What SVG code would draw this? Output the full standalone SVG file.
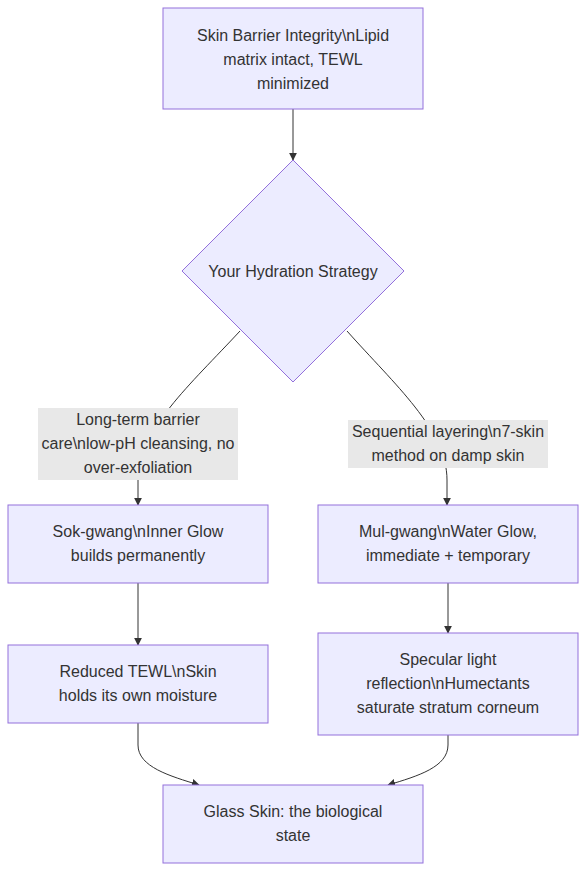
<svg xmlns="http://www.w3.org/2000/svg" width="586" height="871" viewBox="0 0 586 871">
<style>
.node{fill:#ECECFF;stroke:#9370DB;stroke-width:1}
.t{font-family:"Liberation Sans",Arial,sans-serif;font-size:16px;fill:#333;text-anchor:middle;dominant-baseline:central}
.edge{fill:none;stroke:#333;stroke-width:1}
.lbl{fill:#e8e8e8}
</style>
<defs>
<marker id="arr" viewBox="0 0 10 10" refX="9" refY="5" markerWidth="8" markerHeight="8" orient="auto" markerUnits="userSpaceOnUse">
<path d="M0,0 L10,5 L0,10 z" fill="#333"/>
</marker>
</defs>
<rect width="586" height="871" fill="#fff"/>
<g id="edges">
<path class="edge" d="M293,109 L293,160" marker-end="url(#arr)"/>
<path class="edge" d="M240,331 C190,385 138,430 138,480 L138,505" marker-end="url(#arr)"/>
<path class="edge" d="M347,331 C395,385 447,430 447,480 L447,505" marker-end="url(#arr)"/>
<path class="edge" d="M138,583 L138,645" marker-end="url(#arr)"/>
<path class="edge" d="M448,583 L448,633" marker-end="url(#arr)"/>
<path class="edge" d="M138,723 L138,745 C138,767 170,776 199,785" marker-end="url(#arr)"/>
<path class="edge" d="M448,735 L448,745 C448,767 418,776 388,785" marker-end="url(#arr)"/>
</g>
<g id="label-left">
<rect class="lbl" x="38" y="408" width="200" height="72"/>
<text class="t" x="138" y="419">Long-term barrier</text>
<text class="t" x="138" y="443">care\nlow-pH cleansing, no</text>
<text class="t" x="138" y="467">over-exfoliation</text>
</g>
<g id="label-right">
<rect class="lbl" x="348" y="420" width="200" height="48"/>
<text class="t" x="448" y="431">Sequential layering\n7-skin</text>
<text class="t" x="448" y="455">method on damp skin</text>
</g>
<g id="nodeA">
<rect class="node" x="163" y="8" width="260" height="101"/>
<text class="t" x="293" y="35">Skin Barrier Integrity\nLipid</text>
<text class="t" x="293" y="59">matrix intact, TEWL</text>
<text class="t" x="293" y="83">minimized</text>
</g>
<g id="nodeB">
<polygon class="node" points="293,160 404,271 293,382 182,271"/>
<text class="t" x="293" y="271">Your Hydration Strategy</text>
</g>
<g id="nodeC">
<rect class="node" x="8" y="505" width="260" height="78"/>
<text class="t" x="138" y="531">Sok-gwang\nInner Glow</text>
<text class="t" x="138" y="555">builds permanently</text>
</g>
<g id="nodeD">
<rect class="node" x="318" y="505" width="260" height="78"/>
<text class="t" x="448" y="531">Mul-gwang\nWater Glow,</text>
<text class="t" x="448" y="555">immediate + temporary</text>
</g>
<g id="nodeE">
<rect class="node" x="8" y="645" width="260" height="78"/>
<text class="t" x="138" y="671">Reduced TEWL\nSkin</text>
<text class="t" x="138" y="695">holds its own moisture</text>
</g>
<g id="nodeF">
<rect class="node" x="318" y="633" width="260" height="102"/>
<text class="t" x="448" y="659">Specular light</text>
<text class="t" x="448" y="683">reflection\nHumectants</text>
<text class="t" x="448" y="707">saturate stratum corneum</text>
</g>
<g id="nodeG">
<rect class="node" x="163" y="785" width="260" height="78"/>
<text class="t" x="293" y="811">Glass Skin: the biological</text>
<text class="t" x="293" y="835">state</text>
</g>
</svg>
